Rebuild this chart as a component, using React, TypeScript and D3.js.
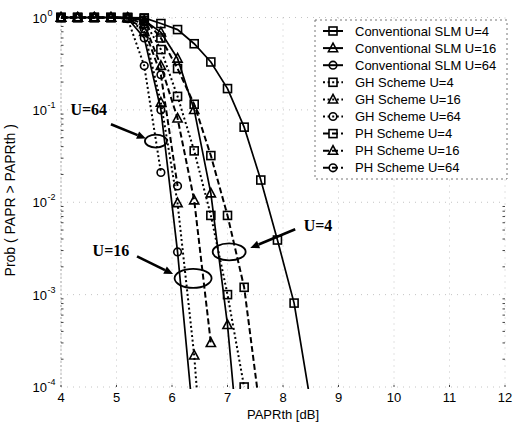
import React from "react";
import * as d3 from "d3";

// PAPR threshold grid (dB) shared by all curves
const paprTh = [4.0, 4.3, 4.6, 4.9, 5.2, 5.5, 5.8, 6.1, 6.4, 6.7, 7.0, 7.3, 7.6, 7.9, 8.2, 8.5];

// CCDF values (null = no more data)
const convU4 = [1, 1, 1, 1, 1, 0.99, 0.86, 0.74, 0.52, 0.33, 0.17, 0.065, 0.0174, 0.0039, 0.00081, 0.000066];
const convU16 = [1, 1, 1, 1, 0.995, 0.93, 0.69, 0.36, 0.1, 0.0125, 0.00047, 0.000005, null, null, null, null];
const convU64 = [1, 1, 1, 1, 0.98, 0.6, 0.1, 0.0029, 0.000035, null, null, null, null, null, null, null];
const ghU4 = [1, 1, 1, 1, 0.99, 0.92, 0.45, 0.14, 0.036, 0.0072, 0.001, 0.0001, null, null, null, null];
const ghU16 = [1, 1, 1, 1, 0.99, 0.7, 0.12, 0.0098, 0.00022, 0.000001, null, null, null, null, null, null];
const ghU64 = [1, 1, 1, 1, 0.97, 0.3, 0.021, null, null, null, null, null, null, null, null, null];
const phU4 = [1, 1, 1, 1, 1, 0.97, 0.6, 0.28, 0.115, 0.032, 0.0072, 0.0012, 0.000048, null, null, null];
const phU16 = [1, 1, 1, 1, 0.99, 0.85, 0.3, 0.081, 0.0105, 0.0003, null, null, null, null, null, null];
const phU64 = [1, 1, 1, 1, 0.98, 0.75, 0.24, 0.015, null, null, null, null, null, null, null, null];

const seriesNames = [
  "Conventional SLM U=4",
  "Conventional SLM U=16",
  "Conventional SLM U=64",
  "GH Scheme U=4",
  "GH Scheme U=16",
  "GH Scheme U=64",
  "PH Scheme U=4",
  "PH Scheme U=16",
  "PH Scheme U=64",
];
const seriesValues = [convU4, convU16, convU64, ghU4, ghU16, ghU64, phU4, phU16, phU64];
const seriesMarkers = ["square", "triangle", "circle", "square", "triangle", "circle", "square", "triangle", "circle"];
const seriesStyles = ["solid", "solid", "solid", "dotted", "dotted", "dotted", "dashed", "dashed", "dashed"];

const xTicks = [4, 5, 6, 7, 8, 9, 10, 11, 12];
const yTickExps = [0, -1, -2, -3, -4];

// annotation callouts: label, label pos, arrow start/end, ellipse center (dB, prob)
const callouts = [
  { label: "U=64", tx: 4.5, tp: 0.1, ax: 4.9, ap: 0.07, bx: 5.53, bp: 0.049, ex: 5.71, ep: 0.046, rx: 11, ry: 6.5 },
  { label: "U=16", tx: 4.9, tp: 0.003, ax: 5.37, ap: 0.0026, bx: 6.02, bp: 0.00167, ex: 6.38, ep: 0.0015, rx: 18.5, ry: 9.5 },
  { label: "U=4", tx: 8.63, tp: 0.0056, ax: 8.22, ap: 0.0051, bx: 7.41, bp: 0.0032, ex: 7.03, ep: 0.0029, rx: 16.5, ry: 8.5 },
];

const W = 522;
const H = 423;
const left = 61;
const right = 505;
const top = 17.5;
const bottom = 387;
const font = "Arial, 'Liberation Sans', sans-serif";

const dashOf = (s: string) => (s === "dotted" ? "2,2.6" : s === "dashed" ? "6,3" : null);

function Marker({ kind, x, y }: { kind: string; x: number; y: number }) {
  const common = { fill: "none", stroke: "#000", strokeWidth: 1.6 };
  if (kind === "square") return <rect x={x - 4} y={y - 4} width={8} height={8} {...common} />;
  if (kind === "circle") return <circle cx={x} cy={y} r={3.8} {...common} />;
  return <path d={`M${x},${y - 5}L${x + 4.6},${y + 3.6}L${x - 4.6},${y + 3.6}Z`} {...common} />;
}

export default function App() {
  const x = d3.scaleLinear().domain([4, 12]).range([left, right]);
  const y = d3.scaleLog().domain([1e-4, 1]).range([bottom, top]);

  const line = d3
    .line<[number, number | null]>()
    .defined((d) => d[1] != null && d[1] > 0)
    .x((d) => x(d[0]))
    .y((d) => y(d[1] as number));

  const minorY: number[] = [];
  for (let e = -4; e < 0; e++) for (let m = 2; m <= 9; m++) minorY.push(m * Math.pow(10, e));

  return (
    <svg width={W} height={H} style={{ position: "absolute", left: 0, top: 0, background: "#fff" }}>
      <defs>
        <clipPath id="plotclip">
          <rect x={left - 6} y={top - 6} width={right - left + 12} height={bottom - top + 8} />
        </clipPath>
      </defs>

      {/* faint dotted grid */}
      <g stroke="#c4c4c4" strokeWidth={1} strokeDasharray="1,5">
        {xTicks.map((t) => (
          <line key={"gx" + t} x1={x(t)} x2={x(t)} y1={top} y2={bottom} />
        ))}
        {yTickExps.map((e) => (
          <line key={"gy" + e} x1={left} x2={right} y1={y(Math.pow(10, e))} y2={y(Math.pow(10, e))} />
        ))}
      </g>

      {/* left axis (dotted in the scan) and minor ticks */}
      <line x1={left} x2={left} y1={top} y2={bottom} stroke="#666" strokeWidth={1} strokeDasharray="1,3" />
      <g stroke="#444" strokeWidth={1}>
        {minorY.map((v, i) => (
          <g key={"my" + i}>
            <line x1={left} x2={left + 2.5} y1={y(v)} y2={y(v)} />
            <line x1={right} x2={right - 2.5} y1={y(v)} y2={y(v)} />
          </g>
        ))}
        {xTicks.map((t) => (
          <line key={"tx" + t} x1={x(t)} x2={x(t)} y1={bottom} y2={bottom - 2} />
        ))}
      </g>

      {/* tick labels */}
      <g fontFamily={font} fontSize={13} fill="#000">
        {xTicks.map((t) => (
          <text key={"lx" + t} x={x(t)} y={bottom + 15} textAnchor="middle">
            {t}
          </text>
        ))}
        {yTickExps.map((e) => (
          <text key={"ly" + e} x={47} y={y(Math.pow(10, e)) + 5} textAnchor="end">
            10
          </text>
        ))}
        {yTickExps.map((e) => (
          <text key={"le" + e} x={47.5} y={y(Math.pow(10, e)) - 2} fontSize={9}>
            {e === 0 ? "0" : "-" + Math.abs(e)}
          </text>
        ))}
      </g>

      {/* axis titles */}
      <text x={(left + right) / 2} y={419} textAnchor="middle" fontFamily={font} fontSize={13}>
        PAPRth [dB]
      </text>
      <text
        transform={`translate(15,${(top + bottom) / 2 - 2}) rotate(-90)`}
        textAnchor="middle"
        fontFamily={font}
        fontSize={14}
      >
        Prob ( PAPR &gt; PAPRth )
      </text>

      {/* curves */}
      <g clipPath="url(#plotclip)">
        {seriesValues.map((vals, i) => {
          const pts = paprTh.map((t, j) => [t, vals[j]] as [number, number | null]);
          const dash = dashOf(seriesStyles[i]);
          return (
            <g key={"s" + i}>
              <path
                d={line(pts) || ""}
                fill="none"
                stroke="#000"
                strokeWidth={seriesStyles[i] === "solid" ? 1.7 : 2}
                strokeDasharray={dash || undefined}
              />
              {pts
                .filter((d) => d[1] != null && (d[1] as number) >= 0.99e-4)
                .map((d, j) => (
                  <Marker key={j} kind={seriesMarkers[i]} x={x(d[0])} y={y(d[1] as number)} />
                ))}
            </g>
          );
        })}
      </g>

      {/* callouts */}
      {callouts.map((c) => {
        const x0 = x(c.ax);
        const y0 = y(c.ap);
        const x1 = x(c.bx);
        const y1 = y(c.bp);
        const ang = Math.atan2(y1 - y0, x1 - x0);
        const hl = 9;
        const hw = 4;
        const bxp = x1 - hl * Math.cos(ang);
        const byp = y1 - hl * Math.sin(ang);
        const head = `M${x1},${y1}L${bxp + hw * Math.sin(ang)},${byp - hw * Math.cos(ang)}L${bxp - hw * Math.sin(ang)},${byp + hw * Math.cos(ang)}Z`;
        return (
          <g key={c.label}>
            <text
              x={x(c.tx)}
              y={y(c.tp) + 5}
              textAnchor="middle"
              fontFamily="'Times New Roman', 'Liberation Serif', serif"
              fontWeight="bold"
              fontSize={16}
            >
              {c.label}
            </text>
            <line x1={x0} y1={y0} x2={bxp} y2={byp} stroke="#000" strokeWidth={2.6} />
            <path d={head} fill="#000" />
            <ellipse cx={x(c.ex)} cy={y(c.ep)} rx={c.rx} ry={c.ry} fill="none" stroke="#000" strokeWidth={1.8} />
          </g>
        );
      })}

      {/* legend */}
      <g>
        <rect x={315} y={20} width={192} height={159} fill="#fff" stroke="#777" strokeWidth={1} strokeDasharray="2,3" />
        {seriesNames.map((name, i) => {
          const ly = 31 + i * 17.1;
          const dash = dashOf(seriesStyles[i]);
          return (
            <g key={"lg" + i}>
              <line
                x1={323}
                x2={343}
                y1={ly}
                y2={ly}
                stroke="#000"
                strokeWidth={2}
                strokeDasharray={dash || undefined}
              />
              <Marker kind={seriesMarkers[i]} x={333} y={ly} />
              <text x={355} y={ly + 4.5} fontFamily={font} fontSize={13}>
                {name}
              </text>
            </g>
          );
        })}
      </g>
    </svg>
  );
}
